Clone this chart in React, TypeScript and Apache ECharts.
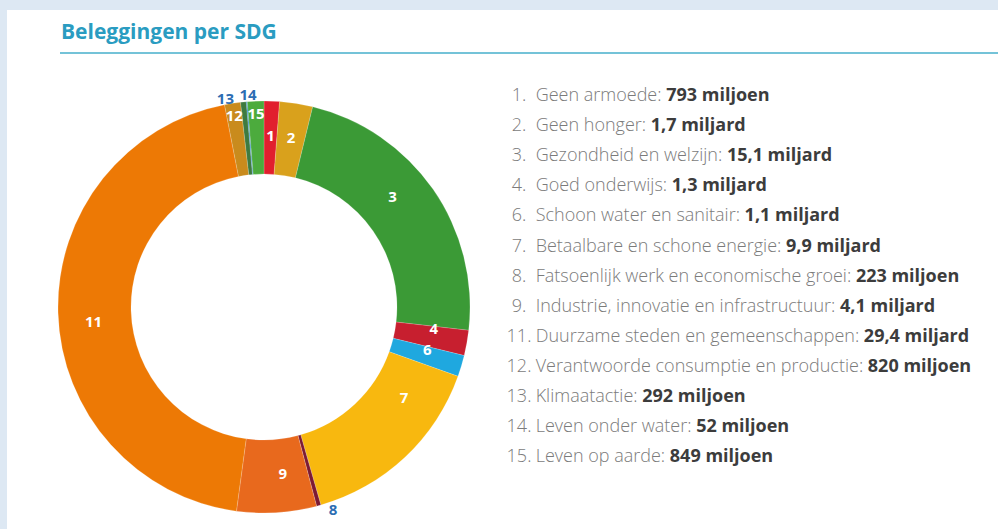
import React, { useEffect, useRef } from "react";
import * as echarts from "echarts";

const sdgNumbers = ["1", "2", "3", "4", "6", "7", "8", "9", "11", "12", "13", "14", "15"];
const sdgNames = [
  "Geen armoede",
  "Geen honger",
  "Gezondheid en welzijn",
  "Goed onderwijs",
  "Schoon water en sanitair",
  "Betaalbare en schone energie",
  "Fatsoenlijk werk en economische groei",
  "Industrie, innovatie en infrastructuur",
  "Duurzame steden en gemeenschappen",
  "Verantwoorde consumptie en productie",
  "Klimaatactie",
  "Leven onder water",
  "Leven op aarde",
];
// investments in billions of euro
const sdgValues = [0.793, 1.7, 15.1, 1.3, 1.1, 9.9, 0.223, 4.1, 29.4, 0.82, 0.292, 0.052, 0.849];
const sdgValueLabels = [
  "793 miljoen",
  "1,7 miljard",
  "15,1 miljard",
  "1,3 miljard",
  "1,1 miljard",
  "9,9 miljard",
  "223 miljoen",
  "4,1 miljard",
  "29,4 miljard",
  "820 miljoen",
  "292 miljoen",
  "52 miljoen",
  "849 miljoen",
];
const sdgColors = [
  "#e11f2e",
  "#d9a11c",
  "#3b9a36",
  "#c71f2f",
  "#1fa8df",
  "#f8b80f",
  "#7c1a33",
  "#e8691d",
  "#ed7905",
  "#c98b1d",
  "#3e7b40",
  "#1b7fc4",
  "#4cab3d",
];
const outsideLabels = ["8", "13", "14"];
const outerRingLabels = ["12", "15"];

// small manual label nudges (layout only), as in the reference
const labelNudges: Record<string, [number, number]> = {
  "3": [-13, -12],
  "7": [22, -36],
  "11": [2, 9],
  "9": [8, -6],
  "4": [0, -9],
  "6": [-2, -7],
  "14": [2, -4],
};

const FONT = "'Open Sans', 'Noto Sans', sans-serif";
const CX = 264;
const CY = 307;
const LEGEND_FS = 18;

export default function App() {
  const ref = useRef<HTMLDivElement>(null);
  useEffect(() => {
    if (!ref.current) return;
    const chart = echarts.init(ref.current, undefined, { renderer: "svg" });
    const data = sdgNumbers.map((n, i) => {
      const outside = outsideLabels.includes(n);
      return {
        name: n,
        value: sdgValues[i],
        itemStyle: { color: sdgColors[i] },
        label: outside
          ? { position: "outside", color: "#2c6db3", fontSize: 15 }
          : { position: "inside" },
      };
    });
    chart.setOption({
      animation: false,
      backgroundColor: "#dde8f3",
      title: {
        text: "Beleggingen per SDG",
        left: 56,
        top: 15,
        textStyle: { fontFamily: FONT, fontSize: 21, fontWeight: "bold", color: "#2a9cc1" },
      },
      graphic: [
        { type: "rect", z: -10, shape: { x: 7, y: 10, width: 991, height: 519 }, style: { fill: "#ffffff" } },
        { type: "line", shape: { x1: 60, y1: 53, x2: 998, y2: 53 }, style: { stroke: "#74c3d8", lineWidth: 2 } },
      ],
      legend: {
        orient: "vertical",
        left: 502,
        top: 82,
        padding: 0,
        itemGap: 9.1,
        itemWidth: 0,
        itemHeight: 24,
        icon: "none",
        selectedMode: false,
        data: sdgNumbers,
        formatter: (name: string) => {
          const i = sdgNumbers.indexOf(name);
          return `{num|${name}.} {txt|${sdgNames[i]}:} {val|${sdgValueLabels[i]}}`;
        },
        textStyle: {
          fontFamily: FONT,
          fontSize: LEGEND_FS,
          fontWeight: 300,
          color: "#7b7b7b",
          rich: {
            num: { width: 24, align: "right", fontFamily: FONT, fontSize: LEGEND_FS, fontWeight: 300, color: "#7b7b7b" },
            txt: { fontFamily: FONT, fontSize: LEGEND_FS, fontWeight: 300, color: "#7b7b7b" },
            val: { fontFamily: FONT, fontSize: LEGEND_FS, fontWeight: "bold", color: "#3c3c3c" },
          },
        },
      },
      series: [
        {
          type: "pie",
          center: [CX, CY],
          radius: [133, 206],
          startAngle: 90,
          clockwise: true,
          avoidLabelOverlap: false,
          silent: true,
          itemStyle: { borderColor: "rgba(255,255,255,0.35)", borderWidth: 0.5 },
          label: {
            show: true,
            position: "inside",
            formatter: "{b}",
            fontFamily: FONT,
            fontSize: 15,
            fontWeight: "bold",
            color: "#ffffff",
          },
          labelLine: { show: false, length: 4, length2: 4 },
          labelLayout: (p: any) => {
            const name = sdgNumbers[p.dataIndex];
            const nudge = labelNudges[name];
            const out: any = {};
            if (name === "14") out.align = "left";
            if (nudge) {
              out.dx = nudge[0];
              out.dy = nudge[1];
            }
            if (outerRingLabels.includes(name)) {
              const lx = p.labelRect.x + p.labelRect.width / 2;
              const ly = p.labelRect.y + p.labelRect.height / 2;
              const dx = lx - CX;
              const dy = ly - CY;
              const len = Math.sqrt(dx * dx + dy * dy) || 1;
              out.dx = (dx / len) * 22;
              out.dy = (dy / len) * 22;
            }
            return out;
          },
          data,
        },
      ],
    });
    return () => chart.dispose();
  }, []);
  return (
    <div
      ref={ref}
      style={{ position: "fixed", left: 0, top: 0, width: 998, height: 529 }}
    />
  );
}
